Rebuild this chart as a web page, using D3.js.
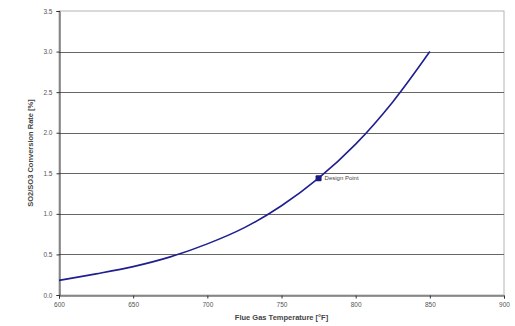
<!DOCTYPE html>
<html>
<head>
<meta charset="utf-8">
<script src="https://cdn.jsdelivr.net/npm/d3@7/dist/d3.min.js"></script>
<style>
  html, body { margin: 0; padding: 0; background: #ffffff; }
  svg { display: block; font-family: "Liberation Sans", Arial, sans-serif; }
</style>
</head>
<body>
<svg id="chart" width="515" height="326"></svg>
<script>
// Conversion rate curve vs. flue gas temperature
const temperatures = [600, 625, 650, 675, 700, 725, 750, 775, 800, 825, 850];
const conversionRates = [0.18, 0.26, 0.35, 0.47, 0.63, 0.83, 1.10, 1.44, 1.86, 2.38, 3.0];

// Design point marker
const designTemp = [775];
const designRate = [1.44];
const designLabel = ["Design Point"];

const xTicks = [600, 650, 700, 750, 800, 850, 900];
const yTicks = [0.0, 0.5, 1.0, 1.5, 2.0, 2.5, 3.0, 3.5];

const svg = d3.select("#chart");
const margin = { left: 59, right: 11, top: 11, bottom: 31 };
const W = 515, H = 326;

const x = d3.scaleLinear().domain([600, 900]).range([margin.left, W - margin.right]);
const y = d3.scaleLinear().domain([0, 3.5]).range([H - margin.bottom, margin.top]);

// Plot frame (top and right edges)
svg.append("rect")
  .attr("x", x(600)).attr("y", y(3.5))
  .attr("width", x(900) - x(600)).attr("height", y(0) - y(3.5))
  .attr("fill", "#ffffff").attr("stroke", "#b4b4b4").attr("stroke-width", 1);

// Horizontal gridlines
svg.append("g")
  .selectAll("line")
  .data(yTicks.filter(d => d > 0 && d < 3.5))
  .join("line")
  .attr("x1", x(600)).attr("x2", x(900))
  .attr("y1", d => Math.round(y(d)) + 0.5).attr("y2", d => Math.round(y(d)) + 0.5)
  .attr("stroke", "#666").attr("stroke-width", 1.1);

// Y axis
const yAxis = d3.axisLeft(y).tickValues(yTicks).tickFormat(d3.format(".1f")).tickSize(3).tickPadding(4);
const gy = svg.append("g").attr("transform", `translate(${Math.round(x(600)) + 0.5},0)`).call(yAxis);
gy.select(".domain").attr("stroke", "#333").attr("stroke-width", 1);
gy.selectAll(".tick line").attr("stroke", "#333");
gy.selectAll("text").attr("font-size", 6.5).attr("fill", "#555");

// X axis
const xAxis = d3.axisBottom(x).tickValues(xTicks).tickFormat(d3.format("d")).tickSize(3).tickPadding(4);
const gx = svg.append("g").attr("transform", `translate(0,${Math.round(y(0)) + 0.5})`).call(xAxis);
gx.select(".domain").attr("stroke", "#333").attr("stroke-width", 1);
gx.selectAll(".tick line").attr("stroke", "#333");
gx.selectAll("text").attr("font-size", 6.5).attr("fill", "#555");

// Curve
const line = d3.line()
  .x((d, i) => x(temperatures[i]))
  .y(d => y(d))
  .curve(d3.curveCatmullRom.alpha(0.5));

svg.append("path")
  .datum(conversionRates)
  .attr("d", line)
  .attr("fill", "none")
  .attr("stroke", "#1f1f8f")
  .attr("stroke-width", 1.6);

// Design point
svg.append("g")
  .selectAll("rect")
  .data(designTemp)
  .join("rect")
  .attr("x", (d) => x(d) - 3)
  .attr("y", (d, i) => y(designRate[i]) - 3)
  .attr("width", 6).attr("height", 6)
  .attr("rx", 1)
  .attr("fill", "#1a1a80");

svg.append("g")
  .selectAll("text")
  .data(designTemp)
  .join("text")
  .attr("x", d => x(d) + 6)
  .attr("y", (d, i) => y(designRate[i]) + 2)
  .attr("font-size", 6)
  .attr("fill", "#444")
  .text((d, i) => designLabel[i]);

// Axis titles
svg.append("text")
  .attr("x", (x(600) + x(900)) / 2)
  .attr("y", 320)
  .attr("text-anchor", "middle")
  .attr("font-size", 7.5)
  .attr("font-weight", "bold")
  .attr("fill", "#444")
  .text("Flue Gas Temperature [°F]");

svg.append("text")
  .attr("transform", `translate(33,${(y(0) + y(3.5)) / 2}) rotate(-90)`)
  .attr("text-anchor", "middle")
  .attr("font-size", 7.5)
  .attr("font-weight", "bold")
  .attr("fill", "#444")
  .text("SO2/SO3 Conversion Rate [%]");
</script>
</body>
</html>
